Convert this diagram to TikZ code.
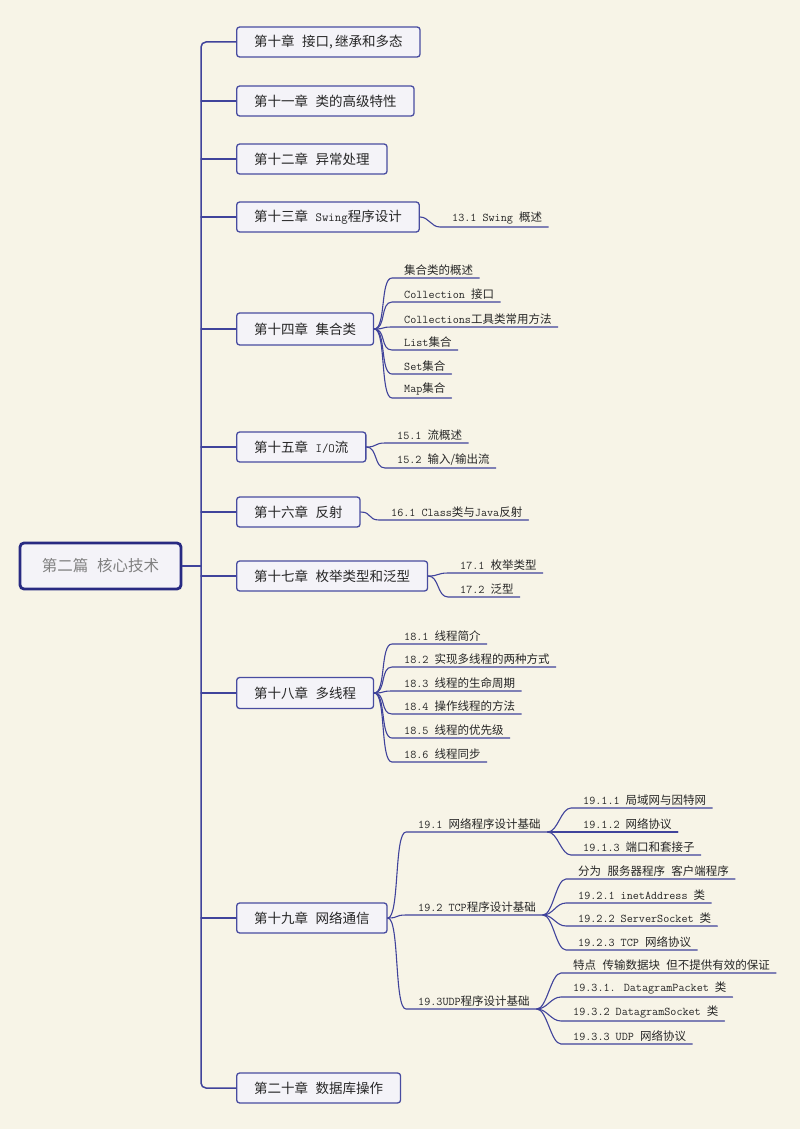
\documentclass[tikz,border=0pt]{standalone}
\usepackage{fontspec}
\setmainfont{Noto Sans CJK SC}
\usetikzlibrary{calc}
\definecolor{bgc}{RGB}{247,244,231}
\definecolor{linec}{RGB}{64,67,155}
\definecolor{boxc}{RGB}{72,76,160}
\definecolor{boxfill}{RGB}{244,243,248}
\definecolor{rootc}{RGB}{40,42,130}
\definecolor{txt}{RGB}{38,38,38}
\newcommand\tm[1]{{\ttfamily\fontsize{11.8}{13}\selectfont #1}}
\newcommand\tmc[1]{{\ttfamily\fontsize{12.5}{15}\selectfont #1}}
\newcommand\cgap{\hspace{0.55em}}
% leaf connector: parent, leaf node, control length, end padding
\newcommand\leafline[4]{\draw[conn] (#1) .. controls +(#3,0) and +(-#3,0) .. ([xshift=-12pt]#2.south west) -- ([xshift=#4pt]#2.south east);}
\tikzset{
  conn/.style={draw=linec, line width=1.1pt, line cap=round, line join=round},
  trunkline/.style={draw=linec, line width=1.5pt, rounded corners=5pt, line cap=round},
  chapter/.style={draw=boxc, line width=1.3pt, fill=boxfill, rounded corners=3pt, anchor=west,
    minimum height=30pt, inner xsep=17.5pt, text=txt, font=\fontsize{13.5}{15}\selectfont},
  rootbox/.style={draw=rootc, line width=2.8pt, fill=boxfill, rounded corners=4pt,
    minimum width=161pt, minimum height=46pt, text=black!50, font=\fontsize{15.5}{17}\selectfont},
  leaf/.style={anchor=south west, inner xsep=0pt, inner ysep=2.5pt, text=txt,
    font=\fontsize{11.5}{13}\selectfont},
}
\begin{document}
\begin{tikzpicture}[x=1pt,y=-1pt]
\fill[bgc] (0,0) rectangle (800,1129);
\useasboundingbox (0,0) rectangle (800,1129);

% root
\node[rootbox] (root) at (100.5,566) {第二篇\cgap 核心技术};
\coordinate (tk) at (201,566);

% chapters
\node[chapter] (b10) at (236,42)  {第十章\cgap 接口,\,继承和多态};
\node[chapter] (b11) at (236,101) {第十一章\cgap 类的高级特性};
\node[chapter] (b12) at (236,159) {第十二章\cgap 异常处理};
\node[chapter] (b13) at (236,217) {第十三章\cgap\tmc{Swing}程序设计};
\node[chapter, minimum height=32pt] (b14) at (236,329) {第十四章\cgap 集合类};
\node[chapter] (b15) at (236,447) {第十五章\cgap\tmc{I/O}流};
\node[chapter] (b16) at (236,512) {第十六章\cgap 反射};
\node[chapter] (b17) at (236,576) {第十七章\cgap 枚举类型和泛型};
\node[chapter, minimum height=31pt] (b18) at (236,693) {第十八章\cgap 多线程};
\node[chapter] (b19) at (236,918) {第十九章\cgap 网络通信};
\node[chapter] (b20) at (236,1088) {第二十章\cgap 数据库操作};

% trunk
\draw[trunkline] (b10.west) -- (b10.west -| tk) -- (b20.west -| tk) -- (b20.west);
\draw[conn, line width=1.5pt] (root.east) -- (tk);
\foreach \b in {b11,b12,b13,b14,b15,b16,b17,b18,b19}
  {\draw[conn] (\b.west -| tk) -- (\b.west);}

% 13
\node[leaf] (l131) at (452,227) {\tm{13.1 Swing }概述};
\leafline{b13.east}{l131}{9}{6}

% 14
\node[leaf] (l141) at (404,278) {集合类的概述};
\node[leaf] (l142) at (404,302) {\tm{Collection }接口};
\node[leaf] (l143) at (404,327) {\tm{Collections}工具类常用方法};
\node[leaf] (l144) at (404,350) {\tm{List}集合};
\node[leaf] (l145) at (404,374) {\tm{Set}集合};
\node[leaf] (l146) at (404,398) {\tm{Map}集合};
\foreach \l in {l141,l142,l143,l144,l145,l146}
  {\leafline{b14.east}{\l}{12}{6}}

% 15
\node[leaf] (l151) at (397,443) {\tm{15.1 }流概述};
\node[leaf] (l152) at (397,468) {\tm{15.2 }输入/输出流};
\foreach \l in {l151,l152}
  {\leafline{b15.east}{\l}{11}{6}}

% 16
\node[leaf] (l161) at (391,520) {\tm{16.1 Class}类与\tm{Java}反射};
\leafline{b16.east}{l161}{11}{6}

% 17
\node[leaf] (l171) at (460,573) {\tm{17.1 }枚举类型};
\node[leaf] (l172) at (460,597) {\tm{17.2 }泛型};
\foreach \l in {l171,l172}
  {\leafline{b17.east}{\l}{11}{6}}

% 18
\node[leaf] (l181) at (404,644) {\tm{18.1 }线程简介};
\node[leaf] (l182) at (404,667) {\tm{18.2 }实现多线程的两种方式};
\node[leaf] (l183) at (404,691) {\tm{18.3 }线程的生命周期};
\node[leaf] (l184) at (404,714) {\tm{18.4 }操作线程的方法};
\node[leaf] (l185) at (404,738) {\tm{18.5 }线程的优先级};
\node[leaf] (l186) at (404,762) {\tm{18.6 }线程同步};
\foreach \l in {l181,l182,l183,l184,l185,l186}
  {\leafline{b18.east}{\l}{12}{6}}

% 19 second level
\node[leaf] (n191) at (418,832) {\tm{19.1 }网络程序设计基础};
\node[leaf] (n192) at (418,915) {\tm{19.2 TCP}程序设计基础};
\node[leaf] (n193) at (418,1009) {\tm{19.3UDP}程序设计基础};
\foreach \l in {n191,n192,n193}
  {\leafline{b19.east}{\l}{12}{7}}
\coordinate (e191) at ([xshift=7pt]n191.south east);
\coordinate (e192) at ([xshift=7pt]n192.south east);
\coordinate (e193) at ([xshift=7pt]n193.south east);

% 19.1 children
\node[leaf] (l1911) at (583,808) {\tm{19.1.1 }局域网与因特网};
\node[leaf] (l1912) at (583,832) {\tm{19.1.2 }网络协议};
\node[leaf] (l1913) at (583,855) {\tm{19.1.3 }端口和套接子};
\foreach \l in {l1911,l1912,l1913}
  {\leafline{e191}{\l}{10}{6}}

% 19.2 children
\node[leaf] (l1920) at (578,879) {分为\cgap 服务器程序\cgap 客户端程序};
\node[leaf] (l1921) at (578,903) {\tm{19.2.1 inetAddress }类};
\node[leaf] (l1922) at (578,926) {\tm{19.2.2 ServerSocket }类};
\node[leaf] (l1923) at (578,950) {\tm{19.2.3 TCP }网络协议};
\foreach \l in {l1920,l1921,l1922,l1923}
  {\leafline{e192}{\l}{10}{6}}

% 19.3 children
\node[leaf] (l1930) at (573,973) {特点\cgap 传输数据块\cgap 但不提供有效的保证};
\node[leaf] (l1931) at (573,997) {\tm{19.3.1. DatagramPacket }类};
\node[leaf] (l1932) at (573,1021) {\tm{19.3.2 DatagramSocket }类};
\node[leaf] (l1933) at (573,1044) {\tm{19.3.3 UDP }网络协议};
\foreach \l in {l1930,l1931,l1932,l1933}
  {\leafline{e193}{\l}{10}{6}}
\end{tikzpicture}
\end{document}
